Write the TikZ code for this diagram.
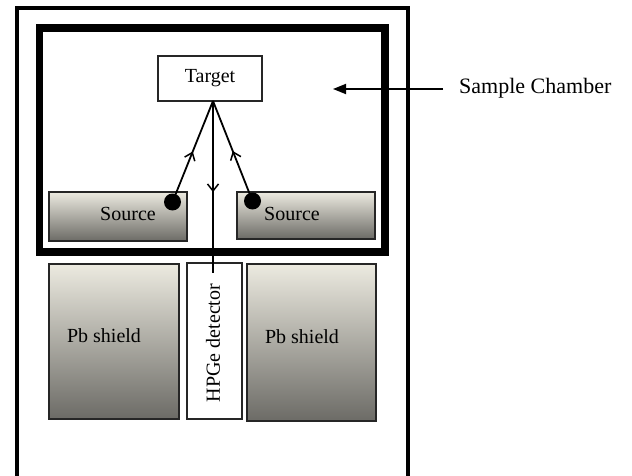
\documentclass[tikz,border=0pt]{standalone}
\usepackage{fontspec}
\setmainfont{Liberation Serif}
\usetikzlibrary{arrows.meta,decorations.markings,calc}
\definecolor{gtop}{RGB}{236,234,224}
\definecolor{gbot}{RGB}{108,107,102}
\tikzset{
  grad/.style={draw=black!85,line width=1.3pt,top color=gtop,bottom color=gbot,inner sep=0pt},
  plainbox/.style={draw=black!85,line width=1.3pt,fill=white,inner sep=0pt},
  lbl/.style={inner sep=0pt,font=\fontsize{20}{24}\selectfont},
  ray/.style={line width=1.8pt},
  midarrow/.style={postaction={decorate},decoration={markings,mark=at position #1 with {\arrow{Straight Barb[length=7pt,width=11pt,line width=1.5pt]}}}},
  dot/.style={circle,fill=black,inner sep=0pt,minimum size=17pt}
}
\begin{document}
\begin{tikzpicture}[x=1pt,y=-1pt]
\useasboundingbox (0,0) rectangle (632,476);
% outer frame (open at bottom)
\draw[line width=3.5pt] (17,480) -- (17,8) -- (408,8) -- (408,480);
% sample chamber
\node[draw,line width=7.5pt,minimum width=345.5pt,minimum height=224pt,inner sep=0pt] (chamber) at (212.25,140) {};
% target
\node[plainbox,minimum width=104pt,minimum height=45pt] (target) at (210,78.5) {};
\node[lbl] (targettxt) at (210,78) {Target};
\coordinate (apex) at (213,101);
% sources
\node[grad,minimum width=138pt,minimum height=49pt] (srcL) at (118,216.5) {};
\node[lbl] (srcLtxt) at (128,214) {Source};
\node[grad,minimum width=138pt,minimum height=47pt] (srcR) at (306,215.5) {};
\node[lbl] (srcRtxt) at (292,214) {Source};
% shields and detector
\node[grad,minimum width=130pt,minimum height=155pt] (pbL) at (114,341.5) {};
\node[lbl] (pbLtxt) at (104,336) {Pb shield};
\node[plainbox,minimum width=55pt,minimum height=156pt] (hpge) at (214.5,341) {};
\node[lbl,rotate=90] (hpgetxt) at (213,343) {HPGe detector};
\node[grad,minimum width=129pt,minimum height=157pt] (pbR) at (311.5,342.5) {};
\node[lbl] (pbRtxt) at (302,337) {Pb shield};
\coordinate (detTop) at (213,273);
% dots on sources
\node[dot] (dotL) at (172.5,202) {};
\node[dot] (dotR) at (252.5,201) {};
% rays
\draw[ray,midarrow=0.5] (dotL.center) -- (apex);
\draw[ray,midarrow=0.5] (dotR.center) -- (apex);
\draw[line width=1.5pt,midarrow=0.53] (apex) -- (detTop);
% sample chamber label
\node[lbl,font=\fontsize{22}{26}\selectfont,anchor=west] (sctxt) at (459,88) {Sample Chamber};
\coordinate (scTip) at (333,89);
\draw[line width=1.8pt,-{Triangle[length=13pt,width=10pt]}] ($(sctxt.west|-scTip)+(-16,0)$) -- (scTip);
\end{tikzpicture}
\end{document}
